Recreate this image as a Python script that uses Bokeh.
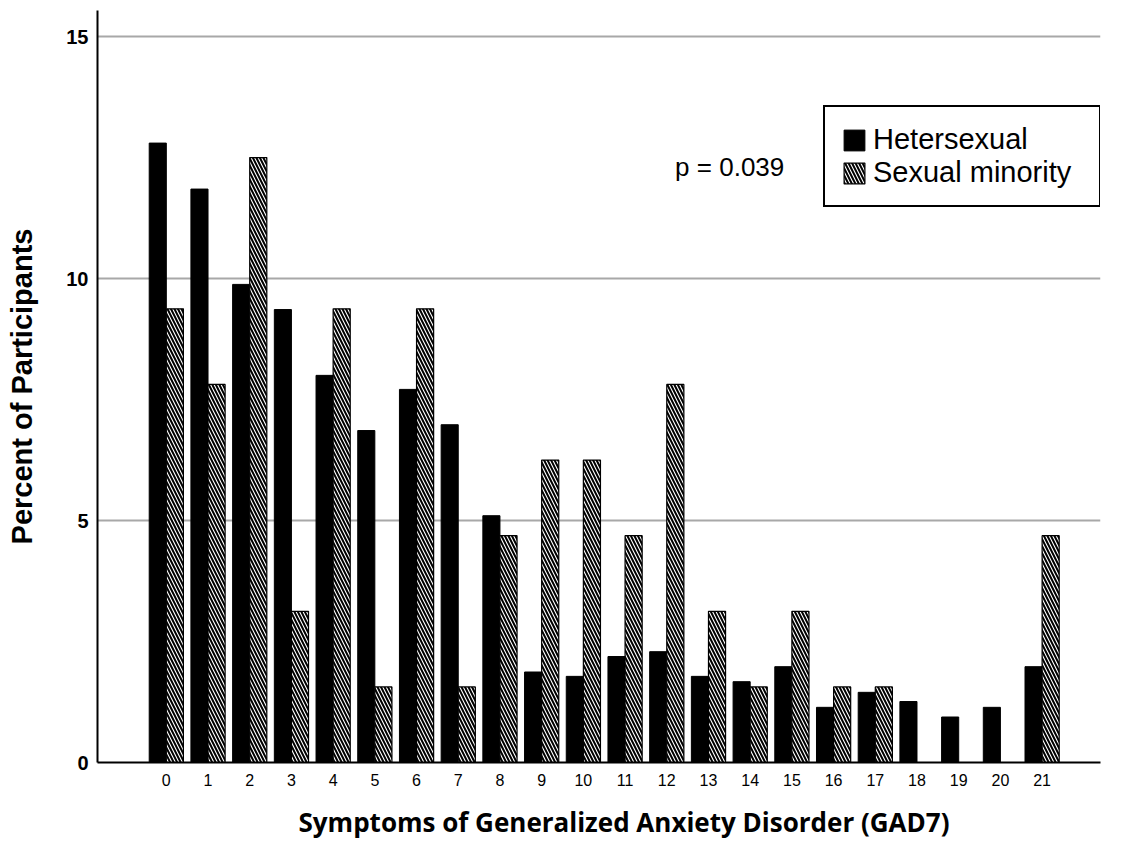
from bokeh.plotting import figure
from bokeh.models import (ColumnDataSource, Range1d, FixedTicker, Legend, LegendItem, Label, Title)
from bokeh.transform import dodge
from bokeh.embed import file_html
from bokeh.resources import INLINE

scores = list(range(22))
tick_labels = [str(s) for s in scores]
heterosexual = [12.8, 11.85, 9.88, 9.36, 8.0, 6.86, 7.71, 6.98, 5.1, 1.87, 1.78,
                2.19, 2.29, 1.78, 1.67, 1.98, 1.14, 1.45, 1.26, 0.94, 1.14, 1.98]
sexual_minority = [9.375, 7.8125, 12.5, 3.125, 9.375, 1.5625, 9.375, 1.5625, 4.6875,
                   6.25, 6.25, 4.6875, 7.8125, 3.125, 1.5625, 3.125, 1.5625, 1.5625,
                   0, 0, 0, 4.6875]
y_ticks = [0, 5, 10, 15]

src = ColumnDataSource(dict(x=scores, het=heterosexual, sm=sexual_minority))

p = figure(frame_width=1003, frame_height=752, output_backend="svg", toolbar_location=None,
           x_range=Range1d(-1.65, 22.4), y_range=Range1d(0, 15.54),
           min_border_left=97, min_border_right=16, min_border_top=10, min_border_bottom=0)
p.outline_line_color = None
p.background_fill_color = "white"

r1 = p.vbar(x=dodge("x", -0.205, range=p.x_range), top="het", width=0.41, source=src,
            fill_color="black", line_color="black", line_width=1)
r2 = p.vbar(x=dodge("x", 0.205, range=p.x_range), top="sm", width=0.41, source=src,
            fill_color="white", line_color="black", line_width=1.2,
            hatch_pattern="left_diagonal_line", hatch_color="black",
            hatch_scale=7, hatch_weight=2)

# axes
p.xaxis.ticker = FixedTicker(ticks=scores)
p.xaxis.major_label_overrides = {s: l for s, l in zip(scores, tick_labels)}
p.yaxis.ticker = FixedTicker(ticks=y_ticks)
for ax in (p.xaxis[0], p.yaxis[0]):
    ax.axis_line_color = "black"
    ax.axis_line_width = 2
    ax.major_tick_line_color = None
    ax.minor_tick_line_color = None
    ax.major_tick_out = 0
    ax.major_tick_in = 0
    ax.minor_tick_out = 0
    ax.major_label_text_color = "black"
    ax.major_label_text_font = "Liberation Sans"
p.xaxis.major_label_text_font_size = "16px"
p.yaxis.major_label_text_font_size = "20px"
p.yaxis.major_label_text_font_style = "bold"
p.xaxis.major_label_standoff = 11
p.yaxis.major_label_standoff = 9

p.yaxis.axis_label = "Percent of Participants"
p.yaxis.axis_label_text_font = "Liberation Sans"
p.yaxis.axis_label_text_font_style = "bold"
p.yaxis.axis_label_text_font_size = "29px"
p.yaxis.axis_label_text_color = "black"
p.yaxis.axis_label_standoff = 25

p.xgrid.grid_line_color = None
p.ygrid.ticker = FixedTicker(ticks=[5, 10, 15])
p.ygrid.grid_line_color = "#a8a8a8"
p.ygrid.grid_line_width = 2

xtitle = Title(text="Symptoms of Generalized Anxiety Disorder (GAD7)", align="left",
               offset=201, text_font="Open Sans", text_font_style="bold",
               text_font_size="26px", text_color="black", standoff=26)
p.add_layout(xtitle, "below")

plab = Label(x=12.2, y=12.3, text="p = 0.039", text_font="Liberation Sans",
             text_font_size="26px", text_align="left", text_baseline="alphabetic",
             text_color="black")
p.add_layout(plab)

legend = Legend(items=[LegendItem(label="Hetersexual", renderers=[r1]),
                       LegendItem(label="Sexual minority", renderers=[r2])],
                location=(726, 555))
legend.label_text_font = "Liberation Sans"
legend.label_text_font_size = "29px"
legend.label_text_color = "black"
legend.glyph_width = 26
legend.glyph_height = 26
legend.label_height = 26
legend.label_width = 210
legend.label_standoff = 6
legend.spacing = 0
legend.padding = 16
legend.margin = 0
legend.border_line_color = "black"
legend.border_line_alpha = 1
legend.border_line_width = 2
legend.background_fill_alpha = 1
p.add_layout(legend)

open("out.html", "w").write(file_html(p, INLINE))
